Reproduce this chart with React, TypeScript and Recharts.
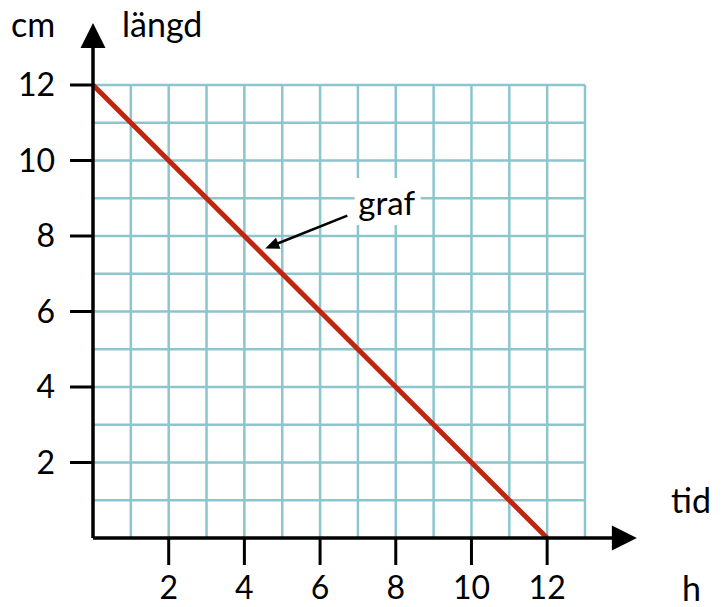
import React from "react";
import {
  LineChart,
  Line,
  XAxis,
  YAxis,
  CartesianGrid,
  ReferenceLine,
  ReferenceDot,
} from "recharts";

// grafens punkter (tid i h, längd i cm)
const TID = [0, 2, 4, 6, 8, 10, 12];
const LANGD = [12, 10, 8, 6, 4, 2, 0];

const X_TICKS = [2, 4, 6, 8, 10, 12];
const Y_TICKS = [2, 4, 6, 8, 10, 12];
const GRID_X = [1, 2, 3, 4, 5, 6, 7, 8, 9, 10, 11, 12, 13];
const GRID_Y = [1, 2, 3, 4, 5, 6, 7, 8, 9, 10, 11, 12];

// pil-ändpunkter för axlarna och "graf"-pilen
const X_AXIS_SEG = [{ x: 0, y: 0 }, { x: 14.37, y: 0 }];
const Y_AXIS_SEG = [{ x: 0, y: 0 }, { x: 0, y: 13.64 }];
const GRAF_ARROW = [{ x: 6.72, y: 8.54 }, { x: 4.55, y: 7.67 }];
const GRAF_LABEL = { x: 7.76, y: 8.82, text: "graf" };

const data = TID.map((t, i) => ({ tid: t, langd: LANGD[i] }));

const FONT = "Lato, 'Open Sans', sans-serif";
const GRID_COLOR = "#8cc5cd";
const LINE_COLOR = "#c0260f";

function ArrowLine(props: any) {
  const { x1, y1, x2, y2, width = 3.5, head = 25, half = 12.5 } = props;
  const dx = x2 - x1;
  const dy = y2 - y1;
  const len = Math.sqrt(dx * dx + dy * dy);
  const ux = dx / len;
  const uy = dy / len;
  const bx = x2 - ux * head;
  const by = y2 - uy * head;
  const px = -uy * half;
  const py = ux * half;
  return (
    <g>
      <line x1={x1} y1={y1} x2={bx + ux * 2} y2={by + uy * 2} stroke="#000" strokeWidth={width} />
      <polygon
        points={`${x2},${y2} ${bx + px},${by + py} ${bx - px},${by - py}`}
        fill="#000"
      />
    </g>
  );
}

function GrafLabel(props: any) {
  const { cx, cy } = props;
  return (
    <g>
      <rect x={cx - 32} y={cy - 27} width={66} height={47} fill="#fff" />
      <text x={cx} y={cy + 10} textAnchor="middle" fontSize={33} fontFamily={FONT} fill="#000">
        {GRAF_LABEL.text}
      </text>
    </g>
  );
}

export default function App() {
  return (
    <div style={{ position: "absolute", left: 0, top: 0, width: 726, height: 607, background: "#fff" }}>
      <LineChart
        width={726}
        height={607}
        data={data}
        margin={{ top: 85, right: 141, bottom: 9, left: 33 }}
      >
        <CartesianGrid
          stroke={GRID_COLOR}
          strokeWidth={2.5}
          verticalValues={GRID_X}
          horizontalValues={GRID_Y}
        />
        <XAxis
          dataKey="tid"
          type="number"
          domain={[0, 13]}
          ticks={X_TICKS}
          height={60}
          axisLine={false}
          tickLine={{ stroke: "#000", strokeWidth: 3 }}
          tickSize={27}
          tickMargin={11}
          tick={{ fill: "#000", fontSize: 32, fontFamily: FONT }}
          interval={0}
        />
        <YAxis
          type="number"
          domain={[0, 12]}
          ticks={Y_TICKS}
          width={60}
          axisLine={false}
          tickLine={{ stroke: "#000", strokeWidth: 3 }}
          tickSize={23}
          tickMargin={15}
          tick={{ fill: "#000", fontSize: 32, fontFamily: FONT }}
          interval={0}
        />
        <Line
          type="linear"
          dataKey="langd"
          stroke={LINE_COLOR}
          strokeWidth={5}
          dot={false}
          isAnimationActive={false}
        />
        <ReferenceLine
          segment={X_AXIS_SEG}
          ifOverflow="visible"
          shape={(p: any) => <ArrowLine {...p} />}
        />
        <ReferenceLine
          segment={Y_AXIS_SEG}
          ifOverflow="visible"
          shape={(p: any) => <ArrowLine {...p} />}
        />
        <ReferenceDot
          x={GRAF_LABEL.x}
          y={GRAF_LABEL.y}
          ifOverflow="visible"
          shape={(p: any) => <GrafLabel {...p} />}
        />
        <ReferenceLine
          segment={GRAF_ARROW}
          ifOverflow="visible"
          shape={(p: any) => <ArrowLine {...p} width={2.5} head={14} half={6} />}
        />
      </LineChart>
      <svg
        width={726}
        height={607}
        style={{ position: "absolute", left: 0, top: 0, pointerEvents: "none" }}
      >
        <g fontFamily={FONT} fontSize={34} fill="#000">
          <text x={11} y={37}>cm</text>
          <text x={122} y={37}>längd</text>
          <text x={671} y={513}>tid</text>
          <text x={682} y={601}>h</text>
        </g>
      </svg>
    </div>
  );
}
